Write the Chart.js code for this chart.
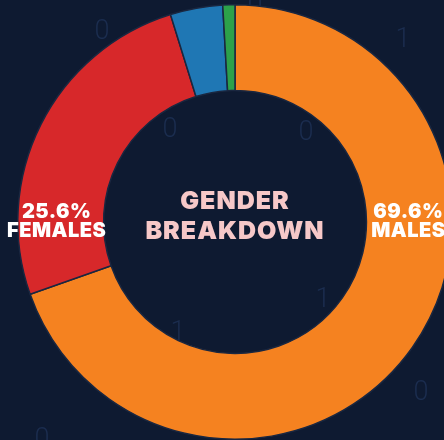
<!DOCTYPE html>
<html>
<head>
<meta charset="utf-8">
<script src="https://cdn.jsdelivr.net/npm/chart.js@4/dist/chart.umd.min.js"></script>
<style>
html,body{margin:0;padding:0;background:#0e1a31;overflow:hidden;width:444px;height:440px;}
#wrap{position:absolute;left:0;top:0;width:470px;height:440px;}
</style>
</head>
<body>
<div id="wrap"><canvas id="c" width="470" height="440"></canvas></div>
<script>
const categories = ["Males", "Females", "Other", "Unknown"];
const shares = [69.6, 25.6, 3.9, 0.9];
const colors = ["#f58220", "#d7282a", "#1f77b4", "#2ca14a"];
const centerTitle = ["GENDER", "BREAKDOWN"];
const sliceLabels = [
  {index: 0, side: "right", lines: ["69.6%", "MALES"]},
  {index: 1, side: "left", lines: ["25.6%", "FEMALES"]}
];
const bgDigits = [
  {t: "0", x: 102, y: 32}, {t: "1", x: 403, y: 40}, {t: "0", x: 170, y: 130},
  {t: "0", x: 306, y: 133}, {t: "1", x: 178, y: 333}, {t: "1", x: 323, y: 300},
  {t: "0", x: 421, y: 393}, {t: "0", x: 42, y: 440}, {t: "0", x: 255, y: 6}
];

const bgPlugin = {
  id: "bg",
  beforeDatasetsDraw(chart) {
    const ctx = chart.ctx;
    ctx.save();
    ctx.fillStyle = "#1b2d4f";
    ctx.font = "300 27px Roboto";
    ctx.textAlign = "center";
    ctx.textBaseline = "middle";
    bgDigits.forEach(d => ctx.fillText(d.t, d.x, d.y));
    ctx.restore();
  }
};

const textPlugin = {
  id: "texts",
  afterDatasetsDraw(chart) {
    const ctx = chart.ctx;
    const meta = chart.getDatasetMeta(0);
    const arc = meta.data[0];
    const cx = arc.x, cy = arc.y;
    const midR = (arc.innerRadius + arc.outerRadius) / 2;
    ctx.save();
    ctx.textAlign = "center";
    ctx.textBaseline = "middle";
    ctx.fillStyle = "#f6c8c8";
    ctx.font = "900 25px Inter";
    ctx.letterSpacing = "1px";
    ctx.fillText(centerTitle[0], cx, cy - 21);
    ctx.fillText(centerTitle[1], cx, cy + 9);
    ctx.fillStyle = "#ffffff";
    ctx.font = "900 20px Inter";
    ctx.letterSpacing = "0.5px";
    sliceLabels.forEach(l => {
      const x = l.side === "right" ? cx + midR - 1 : cx - midR - 4;
      ctx.fillText(l.lines[0], x, cy - 10);
      ctx.fillText(l.lines[1], x, cy + 9);
    });
    ctx.restore();
  }
};

new Chart(document.getElementById("c"), {
  type: "doughnut",
  data: {
    labels: categories,
    datasets: [{
      data: shares,
      backgroundColor: colors,
      borderColor: "#1a2740",
      borderWidth: 1.5
    }]
  },
  options: {
    responsive: false,
    animation: false,
    cutout: "60.5%",
    layout: {padding: {top: 4, bottom: 0, left: 0, right: 0}},
    plugins: {legend: {display: false}, tooltip: {enabled: false}}
  },
  plugins: [bgPlugin, textPlugin]
});
</script>
</body>
</html>
